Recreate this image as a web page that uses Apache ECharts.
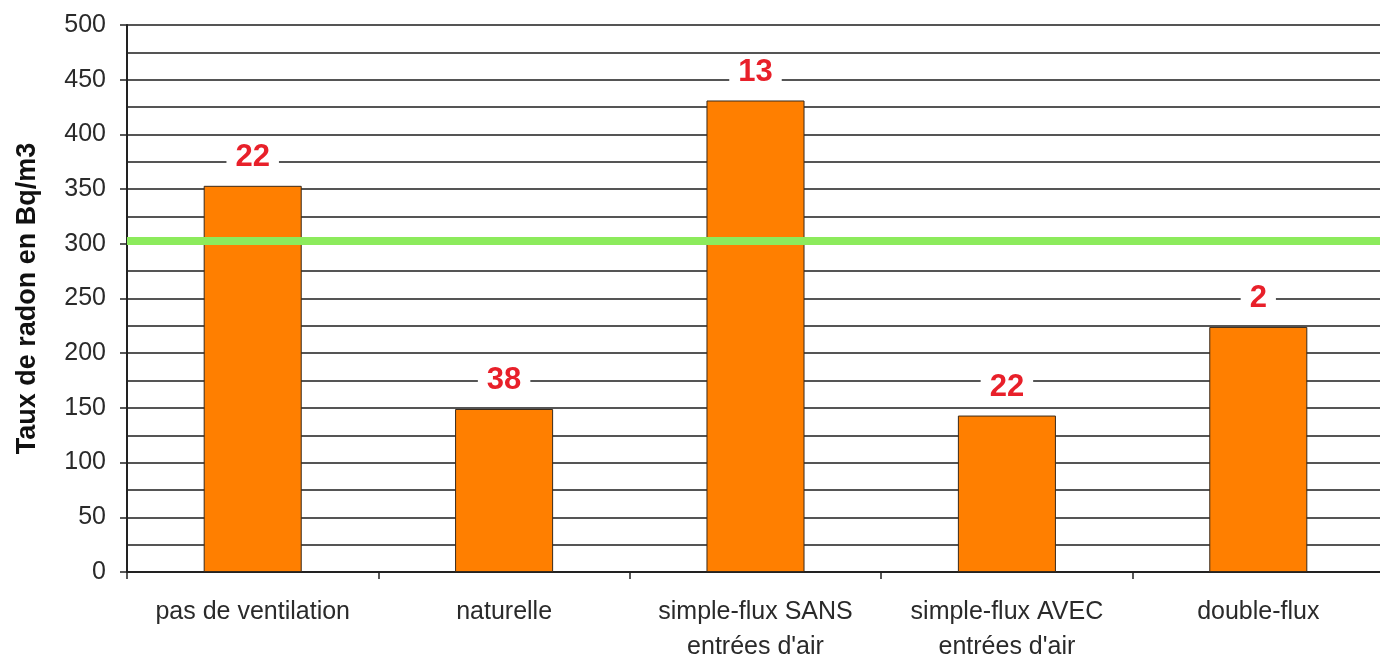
<!DOCTYPE html>
<html>
<head>
<meta charset="utf-8">
<script src="https://cdn.jsdelivr.net/npm/echarts@6/dist/echarts.min.js"></script>
<style>
html,body{margin:0;padding:0;background:#fff;}
#chart{width:1380px;height:659px;}
</style>
</head>
<body>
<div id="chart"></div>
<script>
const categories = ['pas de ventilation', 'naturelle', 'simple-flux SANS\nentrées d\'air', 'simple-flux AVEC\nentrées d\'air', 'double-flux'];
const radonValues = [353, 149, 431, 143, 224];
const counts = [22, 38, 13, 22, 2];
const thresholdValue = 303;
const yAxisName = 'Taux de radon en Bq/m3';

const FONT = 'Liberation Sans, Arial, sans-serif';
const chart = echarts.init(document.getElementById('chart'));
chart.setOption({
  animation: false,
  backgroundColor: '#fff',
  grid: { left: 127, top: 25, bottom: 87, width: 1257, containLabel: false, outerBoundsMode: 'none' },
  xAxis: {
    type: 'category',
    data: categories,
    axisLine: { lineStyle: { color: '#222', width: 2 } },
    axisTick: { show: true, length: 7, interval: 0, lineStyle: { color: '#222', width: 1.5 } },
    axisLabel: { interval: 0, hideOverlap: false, color: '#2a2a2a', fontSize: 25, fontFamily: FONT, margin: 23, lineHeight: 35 }
  },
  yAxis: {
    type: 'value',
    min: 0, max: 500, interval: 50,
    name: yAxisName,
    nameLocation: 'middle',
    nameGap: 86,
    nameTextStyle: { color: '#111', fontSize: 27, fontWeight: 'bold', fontFamily: FONT },
    axisLine: { show: true, lineStyle: { color: '#222', width: 2 } },
    axisTick: { show: true, length: 7, lineStyle: { color: '#222', width: 1.5 } },
    axisLabel: { color: '#2a2a2a', fontSize: 25, fontFamily: FONT, margin: 21 },
    splitLine: { show: true, lineStyle: { color: '#555', width: 2 } },
    minorTick: { show: false, splitNumber: 2 },
    minorSplitLine: { show: true, lineStyle: { color: '#555', width: 2 } }
  },
  series: [{
    type: 'bar',
    data: radonValues.map((v, i) => ({ value: v, count: counts[i] })),
    barWidth: '39%',
    itemStyle: { color: '#FF7F00', borderColor: '#3a2a1a', borderWidth: 1 },
    label: {
      show: true,
      position: 'top',
      distance: 13,
      formatter: p => String(counts[p.dataIndex]),
      color: '#E8202A',
      fontSize: 31,
      fontWeight: 'bold',
      fontFamily: FONT,
      backgroundColor: '#fff',
      padding: [0, 9]
    },
    markLine: {
      silent: true,
      symbol: 'none',
      label: { show: false },
      lineStyle: { color: '#8CEB5C', width: 8, type: 'solid' },
      data: [{ yAxis: thresholdValue }]
    }
  }]
});
</script>
</body>
</html>
